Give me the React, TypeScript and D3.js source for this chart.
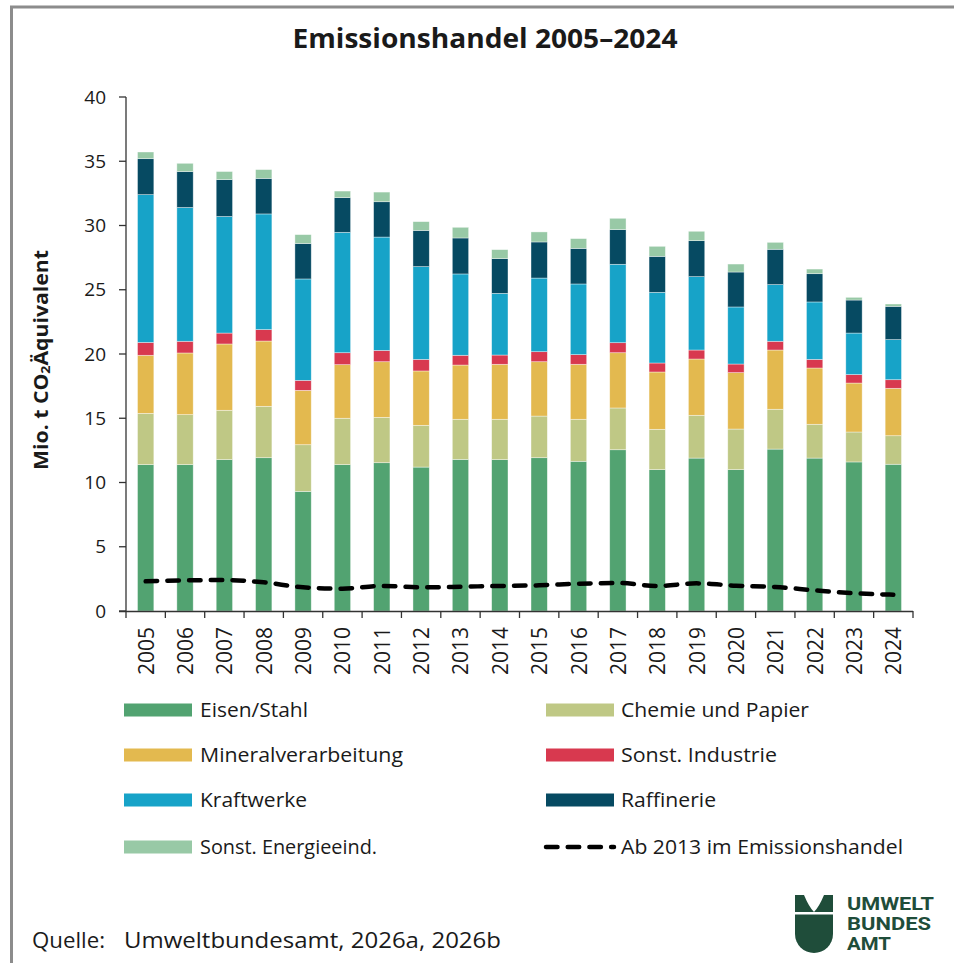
import React from 'react';
import * as d3 from 'd3';

const years = [2005, 2006, 2007, 2008, 2009, 2010, 2011, 2012, 2013, 2014, 2015, 2016, 2017, 2018, 2019, 2020, 2021, 2022, 2023, 2024];

const eisenStahl = [11.39, 11.39, 11.78, 11.93, 9.31, 11.39, 11.54, 11.2, 11.8, 11.78, 11.93, 11.65, 12.55, 11.0, 11.9, 11.0, 12.6, 11.9, 11.6, 11.42];
const chemiePapier = [3.99, 3.89, 3.84, 4.0, 3.63, 3.61, 3.53, 3.25, 3.12, 3.14, 3.24, 3.27, 3.25, 3.14, 3.33, 3.16, 3.1, 2.63, 2.33, 2.22];
const mineral = [4.52, 4.8, 5.16, 5.08, 4.23, 4.17, 4.33, 4.23, 4.22, 4.28, 4.23, 4.28, 4.3, 4.46, 4.38, 4.39, 4.61, 4.38, 3.81, 3.69];
const sonstIndustrie = [1.0, 0.91, 0.85, 0.89, 0.78, 0.93, 0.88, 0.9, 0.76, 0.72, 0.78, 0.75, 0.78, 0.7, 0.7, 0.67, 0.68, 0.67, 0.66, 0.67];
const kraftwerke = [11.5, 10.41, 9.07, 9.0, 7.89, 9.37, 8.82, 7.22, 6.33, 4.8, 5.73, 5.5, 6.1, 5.5, 5.71, 4.44, 4.41, 4.47, 3.23, 3.12];
const raffinerie = [2.8, 2.8, 2.87, 2.77, 2.76, 2.7, 2.75, 2.82, 2.8, 2.7, 2.81, 2.77, 2.7, 2.8, 2.8, 2.72, 2.75, 2.2, 2.57, 2.59];
const sonstEnergie = [0.52, 0.64, 0.63, 0.68, 0.69, 0.51, 0.75, 0.68, 0.83, 0.7, 0.78, 0.76, 0.88, 0.78, 0.73, 0.62, 0.54, 0.36, 0.21, 0.18];
const ab2013 = [2.31, 2.39, 2.41, 2.23, 1.84, 1.74, 1.95, 1.84, 1.89, 1.95, 2.0, 2.12, 2.18, 1.95, 2.15, 1.97, 1.87, 1.61, 1.38, 1.27];

const seriesKeys = ['eisen', 'chemie', 'mineral', 'sonstInd', 'kraft', 'raff', 'sonstEn'];
const seriesNames = ['Eisen/Stahl', 'Chemie und Papier', 'Mineralverarbeitung', 'Sonst. Industrie', 'Kraftwerke', 'Raffinerie', 'Sonst. Energieeind.'];
const seriesColors = ['#52a371', '#bfc885', '#e3b94f', '#d8394f', '#17a3c8', '#064a62', '#98c9a6'];
const lineName = 'Ab 2013 im Emissionshandel';
const yTicks = [0, 5, 10, 15, 20, 25, 30, 35, 40];
const title = 'Emissionshandel 2005–2024';
const sourceLabel = 'Quelle:';
const sourceText = 'Umweltbundesamt, 2026a, 2026b';
const logoLines = ['UMWELT', 'BUNDES', 'AMT'];

const FONT = "'Open Sans', 'Noto Sans', sans-serif";
const TXT = '#1a1a1a';
const AX = '#333333';
const LOGO = '#1f4d3a';

export default function App() {
  const W = 954;
  const H = 963;
  const x = d3.scaleBand<number>().domain(years).range([126, 913]).paddingInner(0.585).paddingOuter(0.2925);
  const y = d3.scaleLinear().domain([0, 40]).range([611, 97]);
  const cols = [eisenStahl, chemiePapier, mineral, sonstIndustrie, kraftwerke, raffinerie, sonstEnergie];
  const table = years.map((yr, i) => {
    const row: any = { year: yr };
    seriesKeys.forEach((k, j) => (row[k] = cols[j][i]));
    return row;
  });
  const stacked = d3.stack().keys(seriesKeys)(table as any);
  const cx = (yr: number) => (x(yr) as number) + x.bandwidth() / 2;
  const lineGen = d3
    .line<number>()
    .x((_, i) => cx(years[i]))
    .y((d) => y(d))
    .curve(d3.curveMonotoneX);
  const step = x.step();
  const boundaries = d3.range(years.length + 1).map((i) => 126 + i * step);

  const legendRows = [710, 755, 800, 847];
  const legendCols = [124, 546];
  const legendItems = [...seriesNames.map((n, i) => ({ name: n, color: seriesColors[i], line: false })), { name: lineName, color: '#000', line: true }];
  const legendLen: Record<string, number> = {
    'Eisen/Stahl': 108,
    'Chemie und Papier': 188,
    Mineralverarbeitung: 203,
    'Sonst. Industrie': 156,
    Kraftwerke: 107,
    Raffinerie: 95,
    'Sonst. Energieeind.': 177,
    [lineName]: 282,
  };
  const logoLens = [87, 84, 44];

  return (
    <div style={{ position: 'absolute', left: 0, top: 0 }}>
      <svg width={W} height={H} style={{ display: 'block', background: '#fff' }}>
        <rect x={0} y={0} width={W} height={H} fill="#fff" />
        <path d={`M11.5,${H} V7 H${W}`} fill="none" stroke="#8c8c8c" strokeWidth={3} />
        <text x={485} y={48} textAnchor="middle" fontFamily={FONT} fontWeight={700} fontSize={26} fill={TXT} textLength={385} lengthAdjust="spacingAndGlyphs">
          {title}
        </text>

        {/* bars */}
        {stacked.map((s, si) => (
          <g key={si} fill={seriesColors[si]}>
            {s.map((d: any, i: number) => (
              <rect
                key={i}
                x={x(years[i])}
                width={x.bandwidth()}
                y={y(d[1])}
                height={y(d[0]) - y(d[1])}
                stroke="rgba(255,255,255,0.55)"
                strokeWidth={0.7}
              />
            ))}
          </g>
        ))}

        {/* y axis */}
        <line x1={126} x2={126} y1={y(40)} y2={y(0)} stroke={AX} strokeWidth={1.3} />
        {yTicks.map((t) => (
          <g key={t}>
            <line x1={119} x2={126} y1={y(t)} y2={y(t)} stroke={AX} strokeWidth={1.3} />
            <text x={106} y={y(t)} dy="0.35em" textAnchor="end" fontFamily={FONT} fontSize={19} fill={TXT}>
              {t}
            </text>
          </g>
        ))}
        <text
          transform={`translate(40,${360}) rotate(-90)`}
          textAnchor="middle"
          dominantBaseline="central"
          fontFamily={FONT}
          fontWeight={700}
          fontSize={19.5}
          fill={TXT}
          textLength={220}
          lengthAdjust="spacingAndGlyphs"
        >
          Mio. t CO<tspan fontSize={13} dy={5}>2</tspan>
          <tspan dy={-5}>Äquivalent</tspan>
        </text>

        {/* x axis */}
        <line x1={119} x2={913} y1={611.5} y2={611.5} stroke={AX} strokeWidth={1.3} />
        {boundaries.map((b, i) => (
          <line key={i} x1={b} x2={b} y1={611} y2={618} stroke={AX} strokeWidth={1.3} />
        ))}
        {years.map((yr) => (
          <text
            key={yr}
            transform={`translate(${cx(yr)},627) rotate(-90)`}
            textAnchor="end"
            dominantBaseline="central"
            fontFamily={FONT}
            fontSize={21}
            fill={TXT}
          >
            {yr}
          </text>
        ))}

        {/* dashed line */}
        <path
          d={lineGen(ab2013) as string}
          fill="none"
          stroke="#000"
          strokeWidth={4.5}
          strokeDasharray="11.5 10.2"
          strokeLinecap="round"
        />

        {/* legend */}
        {legendItems.map((it, i) => {
          const lx = legendCols[i % 2];
          const ly = legendRows[Math.floor(i / 2)];
          return (
            <g key={i}>
              {it.line ? (
                <line x1={lx} x2={lx + 68} y1={ly} y2={ly} stroke="#000" strokeWidth={4.5} strokeDasharray="11.5 10.2" strokeLinecap="round" />
              ) : (
                <rect x={lx} y={ly - 6.5} width={68} height={13} fill={it.color} />
              )}
              <text
                x={lx + (i % 2 === 0 ? 76 : 75)}
                y={ly}
                dy="0.35em"
                fontFamily={FONT}
                fontSize={20}
                fill={TXT}
                textLength={legendLen[it.name]}
                lengthAdjust="spacingAndGlyphs"
              >
                {it.name}
              </text>
            </g>
          );
        })}

        {/* source */}
        <text x={32} y={948} fontFamily={FONT} fontSize={21} fill={TXT} textLength={73} lengthAdjust="spacingAndGlyphs">
          {sourceLabel}
        </text>
        <text x={124} y={948} fontFamily={FONT} fontSize={21} fill={TXT} textLength={377} lengthAdjust="spacingAndGlyphs">
          {sourceText}
        </text>

        {/* logo */}
        <g fill={LOGO}>
          <path d="M795,895 L804,895 Q809,907 814,912 L795,912 Z" />
          <path d="M833,895 L824,895 Q819,907 814,912 L833,912 Z" />
          <path d="M795,914.5 L833,914.5 L833,934 A19,19 0 0 1 795,934 Z" />
          {logoLines.map((l, i) => (
            <text
              key={l}
              x={847}
              y={910 + i * 20}
              fontFamily="'Liberation Sans Narrow', 'Roboto', 'Liberation Sans', sans-serif"
              fontWeight={700}
              fontSize={17.5}
              textLength={logoLens[i]}
              lengthAdjust="spacingAndGlyphs"
            >
              {l}
            </text>
          ))}
        </g>
      </svg>
    </div>
  );
}
